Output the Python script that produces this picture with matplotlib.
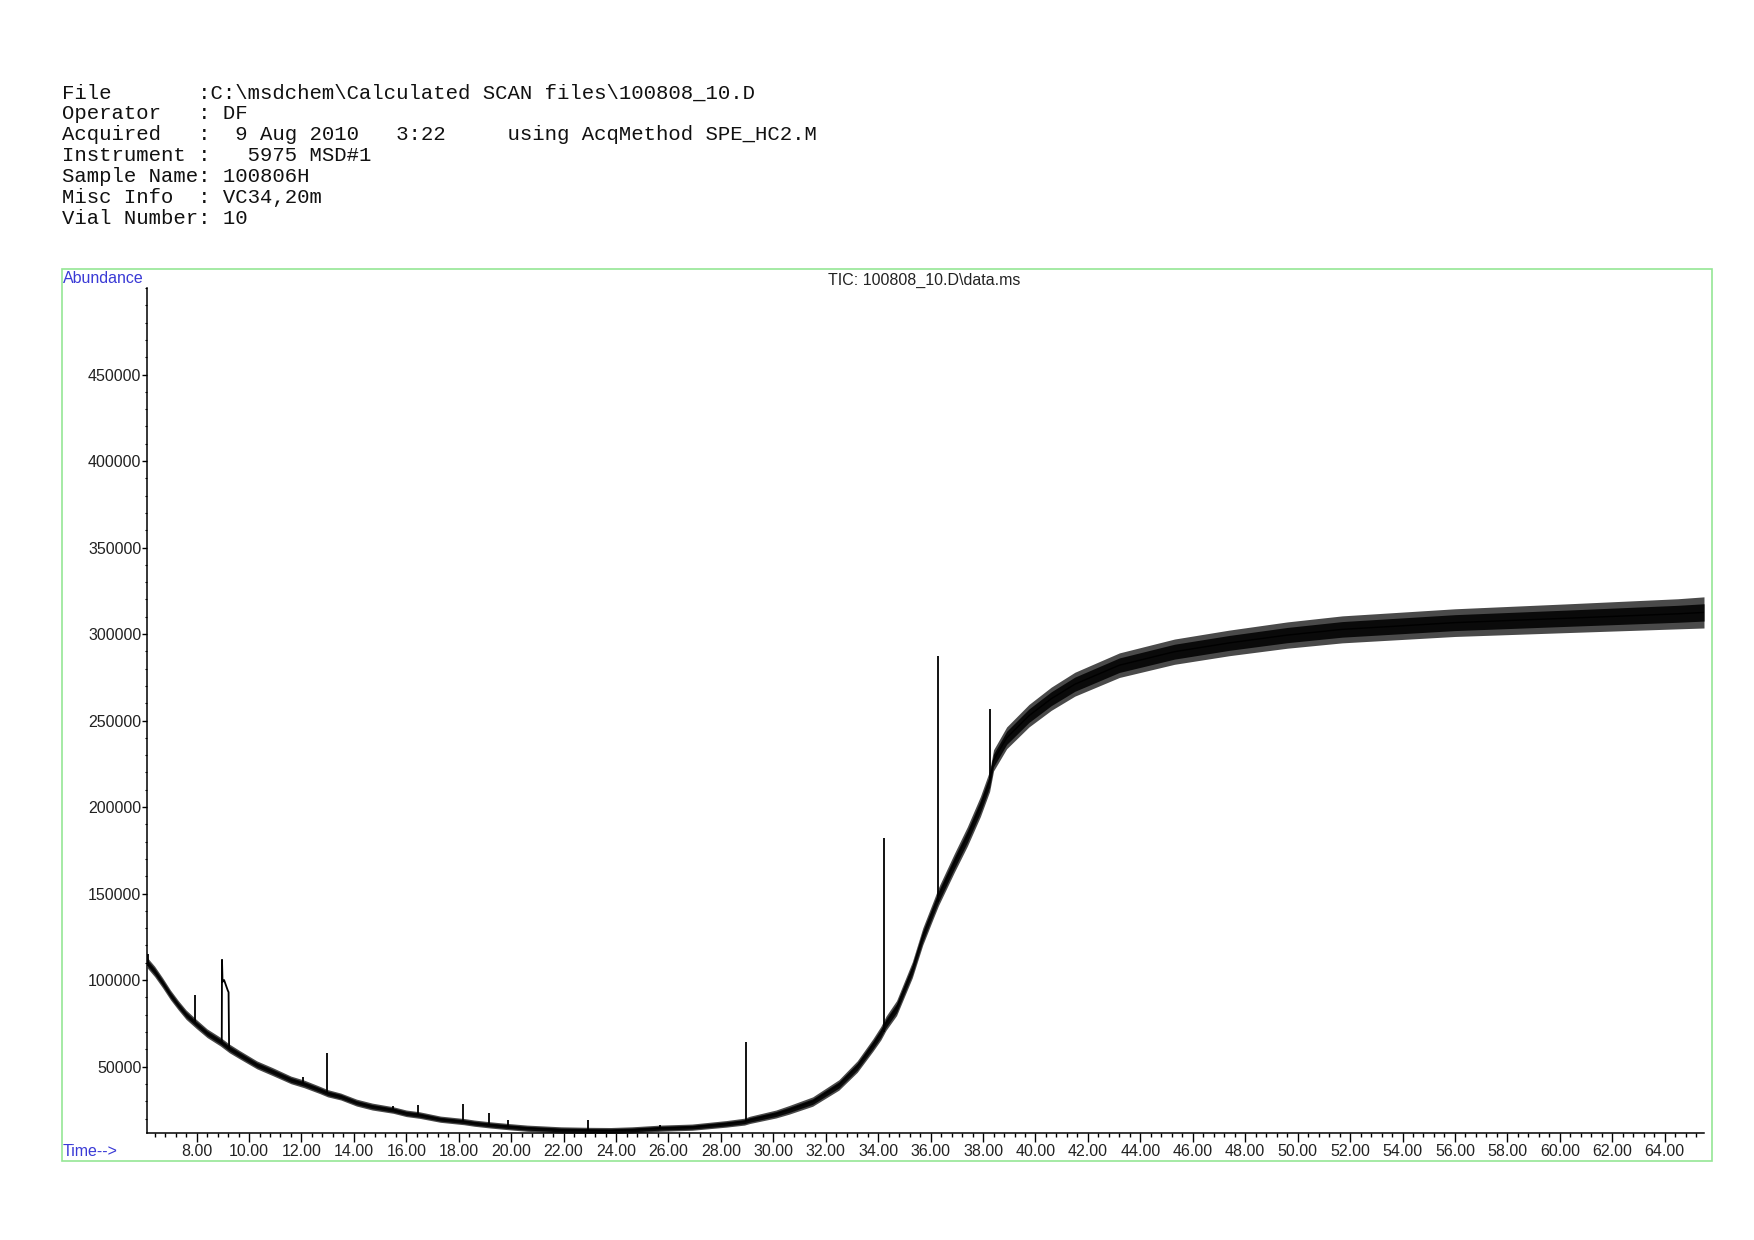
import matplotlib
matplotlib.use("Agg")
import matplotlib.pyplot as plt
from matplotlib.patches import Rectangle
import numpy as np

# ---------------- data ----------------
header_lines = [
    "File       :C:\\msdchem\\Calculated SCAN files\\100808_10.D",
    "Operator   : DF",
    "Acquired   :  9 Aug 2010   3:22     using AcqMethod SPE_HC2.M",
    "Instrument :   5975 MSD#1",
    "Sample Name: 100806H",
    "Misc Info  : VC34,20m",
    "Vial Number: 10",
]
title_text = "TIC: 100808_10.D\\data.ms"

# baseline (centre of the noisy trace), minutes / abundance
base_t = [6.12, 6.4, 6.7, 7.0, 7.3, 7.6, 8.0, 8.4, 8.9, 9.25, 9.65, 10.3, 10.9,
          11.6, 12.1, 12.7, 13.0, 13.5, 14.1, 14.7, 15.5, 16.0, 16.5, 17.3, 18.2,
          18.6, 19.2, 19.9, 20.6, 21.9, 23.0, 23.8, 24.6, 25.7, 26.9, 28.2, 28.9,
          29.1, 30.1, 30.6, 31.5, 32.5, 33.2, 33.8, 34.1, 34.3, 34.7, 35.3, 35.7,
          36.1, 36.3, 36.9, 37.4, 37.9, 38.25, 38.4, 38.9, 39.75, 40.6, 41.5,
          43.2, 45.3, 47.4, 49.6, 51.7, 56.0, 60.2, 64.5, 65.5]
base_v = [110000, 105000, 98500, 91500, 85500, 80000, 74500, 69300, 64500, 60500,
          56800, 51000, 47100, 42300, 40000, 36500, 34600, 32700, 29200, 26900,
          24900, 23000, 22000, 19600, 18200, 17300, 16300, 15300, 14400, 13400,
          13100, 13000, 13400, 14400, 15000, 16900, 18200, 19200, 22600, 25000,
          29800, 39400, 50000, 62500, 69300, 75100, 83800, 105900, 125200,
          140600, 148300, 167600, 183000, 200400, 215000, 227000, 240000,
          252800, 262600, 271000, 282000, 289800, 294900, 299400, 302700,
          306600, 309100, 311700, 312500]
# half-width of the dense noise core at each baseline point
noise_core = [1800, 1800, 1700, 1700, 1600, 1600, 1500, 1500, 1500, 1500, 1500,
              1400, 1400, 1400, 1300, 1300, 1300, 1300, 1200, 1200, 1200, 1200,
              1200, 1100, 1100, 1100, 1100, 1100, 1100, 1100, 1100, 1100, 1100,
              1100, 1100, 1200, 1200, 1300, 1400, 1500, 1600, 1800, 2000, 2200,
              2400, 2500, 2600, 2800, 3000, 3000, 3200, 3300, 3400, 3500, 3600,
              3700, 3800, 3900, 4000, 4100, 4200, 4300, 4300, 4400, 4500, 4600,
              4700, 4900, 5000]
# half-width reached by the sparser noise spikes
noise_spikes = [3000, 3000, 2900, 2800, 2700, 2700, 2600, 2500, 2500, 2500, 2400,
                2300, 2300, 2200, 2200, 2100, 2100, 2000, 2000, 2000, 1900, 1900,
                1900, 1800, 1800, 1800, 1800, 1800, 1800, 1800, 1800, 1800, 1800,
                1800, 1800, 1900, 2000, 2100, 2300, 2500, 2700, 3000, 3300, 3600,
                3900, 4100, 4300, 4600, 4900, 5000, 5200, 5400, 5600, 5800, 6000,
                6100, 6300, 6500, 6700, 6900, 7100, 7300, 7400, 7600, 7800, 8000,
                8300, 8700, 9000]

# narrow peaks: retention time, apex, foot
peak_t = [6.15, 7.94, 12.07, 12.99, 15.5, 16.45, 18.17, 19.16, 19.88, 22.94,
          25.67, 28.94, 34.23, 36.27, 38.26]
peak_top = [115000, 91500, 44200, 57700, 27400, 27800, 28400, 23400, 19200,
            19200, 16500, 64500, 182100, 287200, 256700]
peak_foot = [108000, 76000, 40000, 34600, 24900, 22000, 18200, 16300, 15300,
             13100, 14400, 18500, 70000, 145000, 215000]

# the broad flat-topped peak near 9 min
wide_t = [8.96, 8.97, 8.99, 9.05, 9.12, 9.19, 9.22, 9.24]
wide_v = [64000, 111700, 99000, 100000, 97000, 94000, 93000, 61000]

x_major = [8, 10, 12, 14, 16, 18, 20, 22, 24, 26, 28, 30, 32, 34, 36, 38, 40,
           42, 44, 46, 48, 50, 52, 54, 56, 58, 60, 62, 64]
y_major = [50000, 100000, 150000, 200000, 250000, 300000, 350000, 400000, 450000]

# ---------------- figure ----------------
W, H = 1754, 1240
fig = plt.figure(figsize=(W / 100, H / 100), dpi=100)
fig.patch.set_facecolor("white")

# light green frame
fig.patches.append(Rectangle((62 / W, 1 - 1161 / H), (1712 - 62) / W, (1161 - 269) / H,
                             transform=fig.transFigure, fill=False,
                             edgecolor="#95e695", linewidth=1.2))

ax_l, ax_r, ax_t, ax_b = 147.3, 1704.0, 288.0, 1132.7
ax = fig.add_axes([ax_l / W, 1 - ax_b / H, (ax_r - ax_l) / W, (ax_b - ax_t) / H])
ax.set_xlim(6.12, 65.5)
ax.set_ylim(11800, 500000)

bt = np.array(base_t)
bv = np.array(base_v)
bc = np.array(noise_core)
bs = np.array(noise_spikes)
ax.fill_between(bt, bv - bs, bv + bs, color="#4a4a4a", linewidth=0, zorder=2)
ax.fill_between(bt, bv - bc, bv + bc, color="#0a0a0a", linewidth=0, zorder=2.5)
ax.plot(bt, bv, color="black", linewidth=1.0, zorder=3)
ax.vlines(peak_t, peak_foot, peak_top, color="black", linewidth=1.3, zorder=3)
ax.plot(wide_t, wide_v, color="black", linewidth=1.3, zorder=3)

for s in ("top", "right"):
    ax.spines[s].set_visible(False)
for s in ("left", "bottom"):
    ax.spines[s].set_linewidth(1.1)
    ax.spines[s].set_color("black")

ax.set_xticks(x_major)
ax.set_xticklabels([f"{v:.2f}" for v in x_major])
ax.set_xticks(np.arange(6.4, 65.5, 0.4), minor=True)
ax.set_yticks(y_major)
ax.set_yticklabels([str(v) for v in y_major])
ax.set_yticks(np.arange(20000, 500001, 10000), minor=True)

for lab in ax.get_xticklabels() + ax.get_yticklabels():
    lab.set_fontfamily("Liberation Sans")
    lab.set_fontsize(11.5)
    lab.set_color("#222222")

ax.tick_params(axis="x", which="major", direction="out", length=6.5, width=1.0, pad=1.5)
ax.tick_params(axis="x", which="minor", direction="out", length=2.9, width=1.0)
ax.tick_params(axis="y", which="major", direction="out", length=3.6, width=1.0, pad=0.6)
ax.tick_params(axis="y", which="minor", direction="out", length=1.2, width=0.8)

# header texts
for i, line in enumerate(header_lines):
    fig.text(61.5 / W, 1 - (92.8 + i * 20.9) / H, line, family="Liberation Mono",
             fontsize=14.9, va="center", ha="left", color="#111111")

blue = "#3a3ad6"
fig.text(63 / W, 1 - 278.3 / H, "Abundance", family="Liberation Sans", fontsize=11.5,
         color=blue, va="center", ha="left")
fig.text(62.7 / W, 1 - 1151 / H, "Time-->", family="Liberation Sans", fontsize=11.5,
         color=blue, va="center", ha="left")
fig.text(924.5 / W, 1 - 280 / H, title_text, family="Liberation Sans", fontsize=11.5,
         color="#222222", va="center", ha="center")

fig.savefig("out.png", dpi=100, facecolor="white")
